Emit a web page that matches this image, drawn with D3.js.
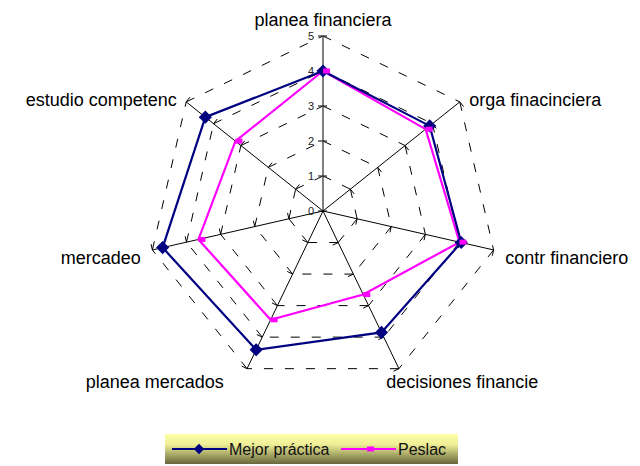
<!DOCTYPE html>
<html>
  <head>
    <meta charset="utf-8">
    <script src="https://d3js.org/d3.v7.min.js"></script>
    <style>
      body { margin: 0px; background: #fff; }
      .cat-label { font-family: 'Liberation Sans', Arial, sans-serif; font-size: 18px; fill: #000; }
      .tick-label { font-family: 'Liberation Sans', Arial, sans-serif; font-size: 11px; fill: #222; }
      .legend-text { font-family: 'Liberation Sans', Arial, sans-serif; font-size: 16px; fill: #111; }
    </style>
  </head>
  <body>
    <svg width="640" height="466"></svg>
    <script>
      const categories = ['planea financiera', 'orga finacinciera', 'contr financiero',
        'decisiones financie', 'planea mercados', 'mercadeo', 'estudio competenc'];
      const mejorPractica = [4.0, 3.9, 4.05, 3.85, 4.4, 4.7, 4.3];
      const peslac = [4.0, 3.75, 4.0, 2.65, 3.45, 3.65, 3.2];
      const tickValues = [0, 1, 2, 3, 4, 5];
      const seriesNames = ['Mejor práctica', 'Peslac'];

      const svg = d3.select('svg');
      const cx = 323, cy = 211;

      const rScale = d3.scaleLinear().domain([0, 5]).range([0, 175]);
      const aScale = d3.scaleLinear().domain([0, categories.length]).range([0, 2 * Math.PI]);

      const pt = (i, v) => [cx + rScale(v) * Math.sin(aScale(i)), cy - rScale(v) * Math.cos(aScale(i))];

      const g = svg.append('g');

      // dashed gridlines, each edge drawn alone so the dashes start at the spokes
      tickValues.filter(t => t > 0).forEach(t => {
        categories.forEach((c, i) => {
          const a = pt(i, t), b = pt((i + 1) % categories.length, t);
          g.append('line')
            .attr('x1', a[0]).attr('y1', a[1]).attr('x2', b[0]).attr('y2', b[1])
            .attr('stroke', '#000')
            .attr('stroke-width', 1)
            .attr('stroke-dasharray', '9,12');
        });
      });

      // spokes + small ticks
      categories.forEach((c, i) => {
        const e = pt(i, 5);
        g.append('line')
          .attr('x1', cx).attr('y1', cy).attr('x2', e[0]).attr('y2', e[1])
          .attr('stroke', i === 0 ? '#808080' : '#000')
          .attr('stroke-width', i === 0 ? 2 : 1);
        const ang = aScale(i);
        const px = Math.cos(ang), py = Math.sin(ang); // clockwise-perpendicular
        tickValues.forEach(t => {
          const p = pt(i, t);
          if (i === 0) {
            g.append('line')
              .attr('x1', p[0] - 5).attr('y1', p[1]).attr('x2', p[0] + 4).attr('y2', p[1])
              .attr('stroke', '#000');
          } else if (t > 0) {
            g.append('line')
              .attr('x1', p[0]).attr('y1', p[1]).attr('x2', p[0] + px * 6).attr('y2', p[1] + py * 6)
              .attr('stroke', '#000');
          }
        });
      });

      // value labels
      g.selectAll('.tick-label').data(tickValues).enter().append('text')
        .attr('class', 'tick-label')
        .attr('x', cx - 9)
        .attr('y', d => cy - rScale(d))
        .attr('dy', '0.35em')
        .attr('text-anchor', 'end')
        .text(d => d);

      // category labels
      categories.forEach((c, i) => {
        const ang = aScale(i);
        const s = Math.sin(ang), co = Math.cos(ang);
        const r = rScale(5) + 12;
        let x = cx + r * s, y = cy - r * co;
        let anchor = Math.abs(s) < 0.1 ? 'middle' : (s > 0 ? 'start' : 'end');
        if (co < -0.5) { x -= 18; y += 2; }
        else if (co > 0.9) { y -= 4; }
        else { y += 5; }
        g.append('text')
          .attr('class', 'cat-label')
          .attr('x', x).attr('y', y)
          .attr('dy', '0.35em')
          .attr('text-anchor', anchor)
          .text(c);
      });

      const radial = d3.lineRadial()
        .angle((d, i) => aScale(i))
        .radius(d => rScale(d))
        .curve(d3.curveLinearClosed);

      const plot = g.append('g').attr('transform', `translate(${cx},${cy})`);

      plot.append('path').datum(peslac)
        .attr('d', radial)
        .attr('fill', 'none')
        .attr('stroke', '#ff00ff')
        .attr('stroke-width', 2.2);

      plot.append('path').datum(mejorPractica)
        .attr('d', radial)
        .attr('fill', 'none')
        .attr('stroke', '#000080')
        .attr('stroke-width', 2.2);

      const diamond = d3.symbol().type(d3.symbolDiamond2).size(110);

      mejorPractica.forEach((v, i) => {
        const p = pt(i, v);
        g.append('path').attr('d', diamond)
          .attr('transform', `translate(${p[0]},${p[1]})`)
          .attr('fill', '#000080');
      });
      peslac.forEach((v, i) => {
        const p = pt(i, v);
        g.append('rect')
          .attr('x', p[0]).attr('y', p[1] - 2.5)
          .attr('width', 7).attr('height', 5)
          .attr('fill', '#ff00ff');
      });

      // legend
      const defs = svg.append('defs');
      const grad = defs.append('linearGradient').attr('id', 'lg')
        .attr('x1', 0).attr('y1', 0).attr('x2', 0).attr('y2', 1);
      grad.append('stop').attr('offset', '0%').attr('stop-color', '#ffffa8');
      grad.append('stop').attr('offset', '35%').attr('stop-color', '#eeee96');
      grad.append('stop').attr('offset', '100%').attr('stop-color', '#66663c');

      const lg = svg.append('g').attr('transform', 'translate(165,434)');
      lg.append('rect').attr('width', 293).attr('height', 30).attr('fill', 'url(#lg)');

      const legendX = [7, 176];
      const legendColors = ['#000080', '#ff00ff'];
      seriesNames.forEach((n, k) => {
        const x0 = legendX[k];
        lg.append('line')
          .attr('x1', x0).attr('y1', 15).attr('x2', x0 + 55).attr('y2', 15)
          .attr('stroke', legendColors[k]).attr('stroke-width', 2.2);
        if (k === 0) {
          lg.append('path').attr('d', d3.symbol().type(d3.symbolDiamond2).size(70))
            .attr('transform', `translate(${x0 + 27},15)`)
            .attr('fill', '#000080');
        } else {
          lg.append('rect').attr('x', x0 + 26).attr('y', 12.5).attr('width', 7).attr('height', 5)
            .attr('fill', '#ff00ff');
        }
        lg.append('text')
          .attr('class', 'legend-text')
          .attr('x', x0 + 57).attr('y', 21)
          .text(n);
      });
    </script>
  </body>
</html>
